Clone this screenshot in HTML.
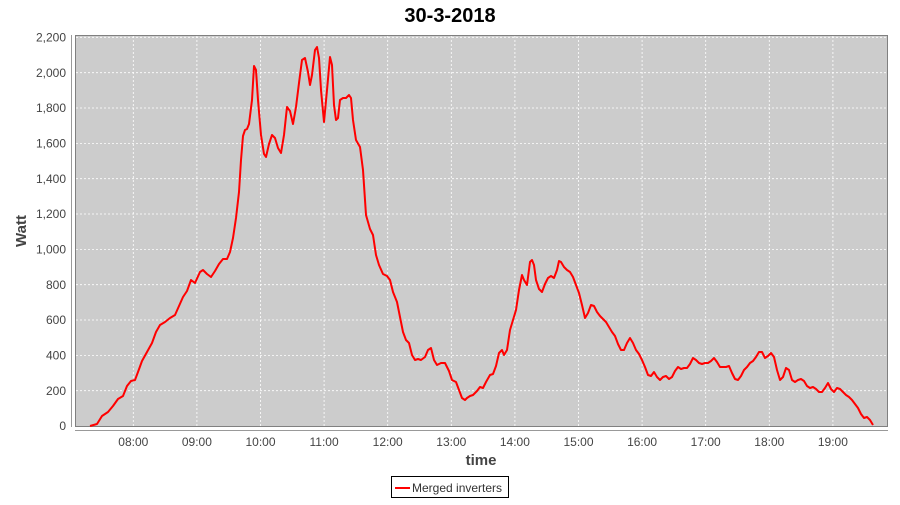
<!DOCTYPE html>
<html><head><meta charset="utf-8"><style>
html,body{margin:0;padding:0;background:#fff;}
</style></head><body>
<svg width="900" height="500" xmlns="http://www.w3.org/2000/svg" font-family="Liberation Sans, sans-serif">
<rect width="900" height="500" fill="#fff"/>
<text x="450" y="22" text-anchor="middle" font-size="20" font-weight="bold" fill="#000">30-3-2018</text>
<rect x="75.5" y="35.5" width="812" height="391" fill="#cccccc" stroke="#808080"/>
<g stroke="#fff" stroke-width="0.8" stroke-dasharray="2,2">
<line x1="76" x2="887" y1="37.3" y2="37.3"/><line x1="76" x2="887" y1="72.7" y2="72.7"/><line x1="76" x2="887" y1="108" y2="108"/><line x1="76" x2="887" y1="143.4" y2="143.4"/><line x1="76" x2="887" y1="178.7" y2="178.7"/><line x1="76" x2="887" y1="214" y2="214"/><line x1="76" x2="887" y1="249.4" y2="249.4"/><line x1="76" x2="887" y1="284.7" y2="284.7"/><line x1="76" x2="887" y1="320" y2="320"/><line x1="76" x2="887" y1="355.4" y2="355.4"/><line x1="76" x2="887" y1="390.7" y2="390.7"/>
<line y1="36" y2="426" x1="133.3" x2="133.3"/><line y1="36" y2="426" x1="196.9" x2="196.9"/><line y1="36" y2="426" x1="260.5" x2="260.5"/><line y1="36" y2="426" x1="324.1" x2="324.1"/><line y1="36" y2="426" x1="387.7" x2="387.7"/><line y1="36" y2="426" x1="451.3" x2="451.3"/><line y1="36" y2="426" x1="514.9" x2="514.9"/><line y1="36" y2="426" x1="578.5" x2="578.5"/><line y1="36" y2="426" x1="642.1" x2="642.1"/><line y1="36" y2="426" x1="705.7" x2="705.7"/><line y1="36" y2="426" x1="769.3" x2="769.3"/><line y1="36" y2="426" x1="832.9" x2="832.9"/>
</g>
<line x1="71.5" y1="35" x2="71.5" y2="427" stroke="#999"/>
<line x1="75" y1="430.5" x2="888" y2="430.5" stroke="#999"/>
<g font-size="12" fill="#444" text-anchor="end">
<text x="66" y="41.5">2,200</text><text x="66" y="77">2,000</text><text x="66" y="112">1,800</text><text x="66" y="147.5">1,600</text><text x="66" y="183">1,400</text><text x="66" y="218">1,200</text><text x="66" y="253.5">1,000</text><text x="66" y="289">800</text><text x="66" y="324">600</text><text x="66" y="359.5">400</text><text x="66" y="395">200</text><text x="66" y="430">0</text>
</g>
<g font-size="12" fill="#444" text-anchor="middle">
<text x="133.3" y="446">08:00</text><text x="196.9" y="446">09:00</text><text x="260.5" y="446">10:00</text><text x="324.1" y="446">11:00</text><text x="387.7" y="446">12:00</text><text x="451.3" y="446">13:00</text><text x="514.9" y="446">14:00</text><text x="578.5" y="446">15:00</text><text x="642.1" y="446">16:00</text><text x="705.7" y="446">17:00</text><text x="769.3" y="446">18:00</text><text x="832.9" y="446">19:00</text>
</g>
<text x="481" y="465" text-anchor="middle" font-size="15" font-weight="bold" fill="#444">time</text>
<text transform="translate(26,231) rotate(-90)" text-anchor="middle" font-size="15" font-weight="bold" fill="#444">Watt</text>
<polyline fill="none" stroke="#ff0000" stroke-width="2" stroke-linejoin="round" points="90,426 97,424 102,416 108,412 113,406 118,399 123,396 127,386 131,381 135,380 138,372 142,361 147,352 152,343 156,332 160,325 165,322 170,318 175,315 179,306 183,297 187,291 191,280 195,283 200,272 203,270 207,274 211,277 215,271 219,264 223,259 227,259 230,252 233,238 236,218 239,192 241,160 243,136 245,130 247,129 249,124 252,100 254,66 256,70 258,100 261,135 264,154 266,157 269,144 272,135 275,138 278,148 281,153 284,135 287,107 290,111 293,124 296,107 299,83 302,60 305,58 308,72 310,85 312,75 315,50 317,47 319,58 321,90 324,122 327,90 330,57 332,65 334,105 336,120 338,118 340,100 343,98 346,98 349,95 351,98 353,120 356,140 360,147 363,170 366,215 370,229 373,235 376,255 379,265 383,274 387,276 390,280 393,292 397,302 400,317 403,332 406,340 409,343 412,355 415,360 418,359 421,360 425,357 428,350 431,348 434,360 437,365 441,363 445,363 449,371 452,380 456,382 459,390 462,398 465,400 467,398 470,396 473,395 477,391 480,387 483,388 486,382 490,375 493,374 496,366 499,353 502,350 504,355 507,350 510,330 513,320 516,310 519,290 522,275 524,280 527,285 530,262 532,260 534,265 536,280 539,289 542,292 545,284 548,278 551,276 554,278 557,270 559,261 561,262 564,267 567,270 570,272 573,277 576,285 579,293 582,305 585,318 588,313 591,305 594,306 597,312 600,316 603,319 606,322 609,327 612,332 615,336 618,344 621,350 624,350 627,343 630,338 633,343 636,350 639,354 642,360 645,367 648,375 651,376 654,372 657,377 660,380 663,377 666,376 669,379 672,377 675,371 678,367 681,369 684,368 687,368 690,364 693,358 696,360 699,363 702,364 705,363 708,363 711,361 714,358 717,362 720,367 723,367 726,367 729,366 732,373 735,379 738,380 741,376 744,370 747,367 750,363 753,361 756,357 759,352 762,352 765,358 768,356 771,353 774,357 777,370 780,380 783,377 786,368 789,370 792,380 795,382 798,380 801,379 804,381 807,386 810,388 813,387 816,389 819,392 822,392 825,388 828,383 831,389 834,392 837,388 840,389 843,392 846,395 849,397 852,400 855,404 858,408 861,414 864,418 867,417 870,420 873,425"/>
<rect x="391.5" y="476.5" width="117" height="21" fill="#fff" stroke="#000"/>
<line x1="395" y1="488" x2="410" y2="488" stroke="#ff0000" stroke-width="2"/>
<text x="412" y="492" font-size="12" fill="#333">Merged inverters</text>
</svg>
</body></html>
